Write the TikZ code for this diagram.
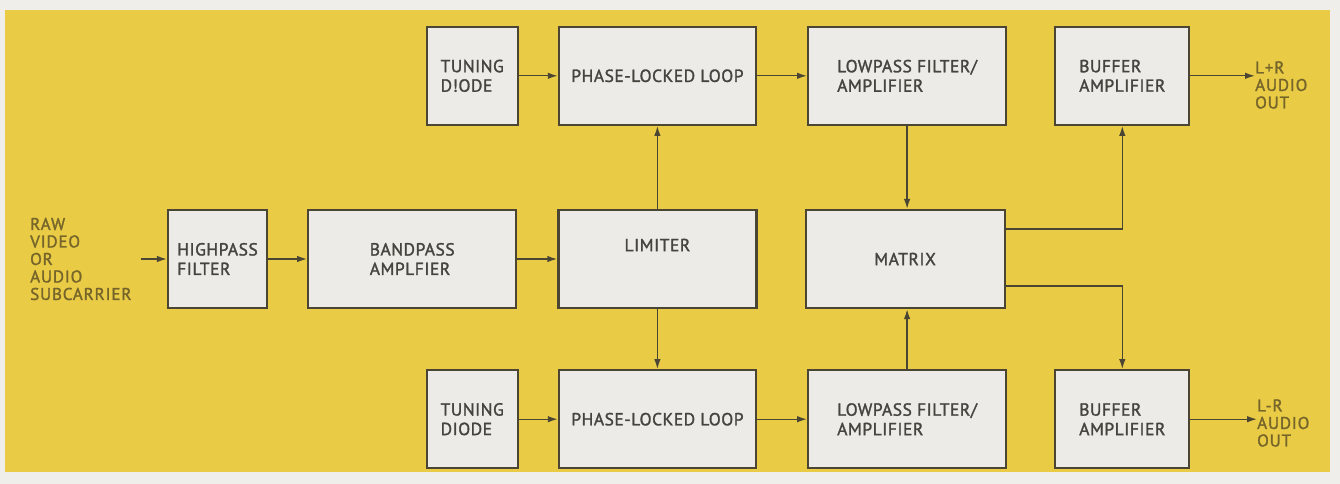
\documentclass[tikz,border=0pt]{standalone}
\usepackage{fontspec}
\setmainfont{PT Sans}[FakeBold=1.6, LetterSpace=3]
\newfontfamily\portfont{PT Sans}[FakeBold=1.6, LetterSpace=5]
\usetikzlibrary{arrows.meta, positioning}

\definecolor{paperwhite}{HTML}{EFEEEA}
\definecolor{pageyellow}{HTML}{EACB45}
\definecolor{boxgray}{HTML}{ECEBE7}
\definecolor{inkline}{HTML}{4A4633}
\definecolor{inktext}{HTML}{45443E}
\definecolor{labelink}{HTML}{75652A}

\begin{document}
\begin{tikzpicture}[
    x=1pt, y=1pt,
    node distance=40pt,
    block/.style={rectangle, draw=inkline, line width=2.2pt, fill=boxgray, text=inktext, align=left, minimum width=198pt, minimum height=98pt, inner sep=2pt, font=\fontsize{17.5}{19.5}\selectfont},
    portlabel/.style={align=left, text=labelink, inner sep=0pt, font=\portfont\fontsize{17}{17.5}\selectfont},
    signal/.style={draw=inkline, -{Latex[length=10pt, width=6.5pt]}, line width=1.4pt}
]

    % Page and yellow panel
    \useasboundingbox (0,0) rectangle (1340,-484);
    \fill [paperwhite] (0,0) rectangle (1340,-484);
    \fill [pageyellow] (5,-10) rectangle (1330,-472);

    % Input chain
    \node [portlabel, anchor=west] (rawin) at (30,-259) {RAW\\VIDEO\\OR\\AUDIO\\SUBCARRIER};
    \node [block, minimum width=99pt] (hpf) at (217.5,-259) {HIGHPASS\\FILTER};
    \node [block, right=39pt of hpf, minimum width=208pt] (bpa) {BANDPASS\\AMPLFIER};
    \node [block, right=40pt of bpa] (lim) {\raisebox{28pt}{LIMITER}};
    \node [block, right=47pt of lim, minimum width=199pt] (mtx) {MATRIX};

    % Upper (L+R) channel
    \node [block, above=83pt of lim, minimum width=197pt] (plltop) {PHASE-LOCKED LOOP};
    \node [block, left=39pt of plltop, minimum width=91pt] (tdtop) {TUNING\\D!ODE};
    \node [block, right=50pt of plltop] (lpftop) {LOWPASS FILTER/\\AMPLIFIER};
    \node [block, right=47pt of lpftop, minimum width=134pt] (buftop) {BUFFER\\AMPLIFIER};
    \node [portlabel, anchor=west] (lrsum) at (1255,-85) {L+R\\AUDIO\\OUT};

    % Lower (L-R) channel
    \node [block, below=60pt of lim, minimum width=197pt] (pllbot) {PHASE-LOCKED LOOP};
    \node [block, left=39pt of pllbot, minimum width=91pt] (tdbot) {TUNING\\DIODE};
    \node [block, right=50pt of pllbot] (lpfbot) {LOWPASS FILTER/\\AMPLIFIER};
    \node [block, right=47pt of lpfbot, minimum width=134pt] (bufbot) {BUFFER\\AMPLIFIER};
    \node [portlabel, anchor=west] (lrdiff) at (1257,-423) {L-R\\AUDIO\\OUT};

    % Connections
    \path [signal, shorten <=9pt] (rawin.east) -- (hpf.west);
    \path [signal] (hpf) -- (bpa);
    \path [signal] (bpa) -- (lim);
    \path [signal] (lim) -- (plltop);
    \path [signal] (lim) -- (pllbot);

    \path [signal] (tdtop) -- (plltop);
    \path [signal] (plltop) -- (lpftop);
    \path [signal] (lpftop.south) -- (lpftop.south |- mtx.north);
    \path [signal] (buftop) -- (buftop -| lrsum.west);

    \path [signal] (tdbot) -- (pllbot);
    \path [signal] (pllbot) -- (lpfbot);
    \path [signal] (lpfbot.north) -- (lpfbot.north |- mtx.south);
    \path [signal] (bufbot) -- (bufbot -| lrdiff.west);

    \path [signal] ([yshift=30pt]mtx.east) -| (buftop.south);
    \path [signal] ([yshift=-27pt]mtx.east) -| (bufbot.north);

\end{tikzpicture}
\end{document}
